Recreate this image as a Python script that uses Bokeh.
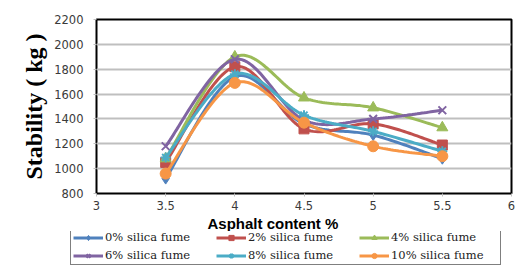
from bokeh.plotting import figure
from bokeh.layouts import column
from bokeh.models import Range1d, FixedTicker, Legend, LegendItem, Title
from bokeh.embed import file_html
from bokeh.resources import INLINE

# ---- data ----
asphalt = [3.5, 4.0, 4.5, 5.0, 5.5]
sf0 = [920, 1740, 1360, 1270, 1080]
sf2 = [1050, 1820, 1320, 1360, 1190]
sf4 = [1080, 1900, 1570, 1490, 1330]
sf6 = [1180, 1880, 1390, 1400, 1470]
sf8 = [1090, 1760, 1430, 1300, 1140]
sf10 = [960, 1690, 1370, 1180, 1100]
series_names = ["0% silica fume", "2% silica fume", "4% silica fume",
                "6% silica fume", "8% silica fume", "10% silica fume"]
x_ticks = [3, 3.5, 4, 4.5, 5, 5.5, 6]
x_tick_labels = ["3", "3.5", "4", "4.5", "5", "5.5", "6"]
y_ticks = [800, 1000, 1200, 1400, 1600, 1800, 2000, 2200]

colors = ["#4F81BD", "#C0504D", "#9BBB59", "#8064A2", "#4BACC6", "#F79646"]
markers = ["diamond", "square", "triangle", "x", "asterisk", "circle"]
msizes = [11, 10, 11, 11, 10, 11]


def smooth(xs, ys, n=30):
    """Excel-like smoothed line: Catmull-Rom Bezier through the points."""
    P = [(xs[0], ys[0])] + list(zip(xs, ys)) + [(xs[-1], ys[-1])]
    ox, oy = [], []
    for i in range(len(xs) - 1):
        p0, p1, p2, p3 = P[i], P[i + 1], P[i + 2], P[i + 3]
        c1 = (p1[0] + (p2[0] - p0[0]) / 6, p1[1] + (p2[1] - p0[1]) / 6)
        c2 = (p2[0] - (p3[0] - p1[0]) / 6, p2[1] - (p3[1] - p1[1]) / 6)
        for k in range(n + (1 if i == len(xs) - 2 else 0)):
            t = k / n
            a, b, c, d = (1 - t) ** 3, 3 * (1 - t) ** 2 * t, 3 * (1 - t) * t ** 2, t ** 3
            ox.append(a * p1[0] + b * c1[0] + c * c2[0] + d * p2[0])
            oy.append(a * p1[1] + b * c1[1] + c * c2[1] + d * p2[1])
    return ox, oy


fig = figure(width=528, height=231, output_backend="svg", toolbar_location=None,
             x_range=Range1d(3, 6), y_range=Range1d(800, 2200),
             min_border_left=96, min_border_right=17, min_border_top=19, min_border_bottom=38)
fig.background_fill_color = "white"
fig.border_fill_color = "white"
fig.outline_line_color = "black"
fig.outline_line_width = 2

fig.xgrid.grid_line_color = None
fig.ygrid.grid_line_color = "#BFBFBF"
fig.ygrid.grid_line_width = 2

fig.xaxis.ticker = FixedTicker(ticks=x_ticks)
fig.xaxis.major_label_overrides = {t: l for t, l in zip(x_ticks, x_tick_labels)}
fig.yaxis.ticker = FixedTicker(ticks=y_ticks)
for ax in (fig.xaxis[0], fig.yaxis[0]):
    ax.axis_line_color = None
    ax.major_tick_line_color = "#BFBFBF"
    ax.major_tick_in = 0
    ax.major_tick_out = 3
    ax.minor_tick_line_color = None
    ax.major_label_text_font = "DejaVu Sans"
    ax.major_label_text_font_size = "11.5px"
    ax.major_label_text_color = "#3A3A3A"
fig.xaxis.major_label_standoff = 4
fig.yaxis.major_label_standoff = 10

series = [sf0, sf2, sf4, sf6, sf8, sf10]
for ys, col, mk, ms in zip(series, colors, markers, msizes):
    sx, sy = smooth(asphalt, ys)
    fig.line(sx, sy, line_color=col, line_width=3)
    fig.scatter(asphalt, ys, marker=mk, size=ms, fill_color=col, line_color=col,
                line_width=2 if mk in ("x", "asterisk") else 1)

# axis titles
xt = Title(text="Asphalt content %", align="left", offset=111,
           text_font="Liberation Sans", text_font_size="15px", text_font_style="bold",
           text_color="black", standoff=0)
fig.add_layout(xt, "below")
yt = Title(text="Stability ( kg )", align="center",
           text_font="Liberation Serif", text_font_size="24px", text_font_style="bold",
           text_color="black", standoff=10)
fig.add_layout(yt, "left")

# ---- legend strip below the chart ----
leg = figure(width=528, height=36, output_backend="svg", toolbar_location=None,
             x_axis_location=None, y_axis_location=None,
             x_range=Range1d(0, 1), y_range=Range1d(0, 1),
             min_border_left=0, min_border_right=0, min_border_top=0, min_border_bottom=0)
leg.frame_align = False
leg.grid.grid_line_color = None
leg.outline_line_color = None
leg.background_fill_color = "white"
leg.border_fill_color = "white"
items = []
for name, ys, col, mk, ms in zip(series_names, series, colors, markers, msizes):
    # same series, outside this strip's ranges: only their legend glyphs show
    lr = leg.line(asphalt, ys, line_color=col, line_width=3)
    sr = leg.scatter(asphalt, ys, marker=mk, size=ms - 2, fill_color=col, line_color=col,
                     line_width=2 if mk in ("x", "asterisk") else 1)
    items.append(LegendItem(label=name, renderers=[lr, sr]))
# legend fills column by column: reorder so it reads row by row
items = [items[i] for i in (0, 3, 1, 4, 2, 5)]
legend = Legend(items=items, ncols=3, location=(70, 2), margin=0,
                glyph_width=30, glyph_height=13, label_height=13, label_width=107,
                label_standoff=2, spacing=4, padding=2,
                label_text_font="DejaVu Serif", label_text_font_size="11.5px",
                label_text_color="#222222",
                border_line_color="black", border_line_width=1,
                background_fill_alpha=0)
leg.add_layout(legend, "center")

p = column(fig, leg, spacing=0)

open("out.html", "w").write(file_html(p, INLINE))
